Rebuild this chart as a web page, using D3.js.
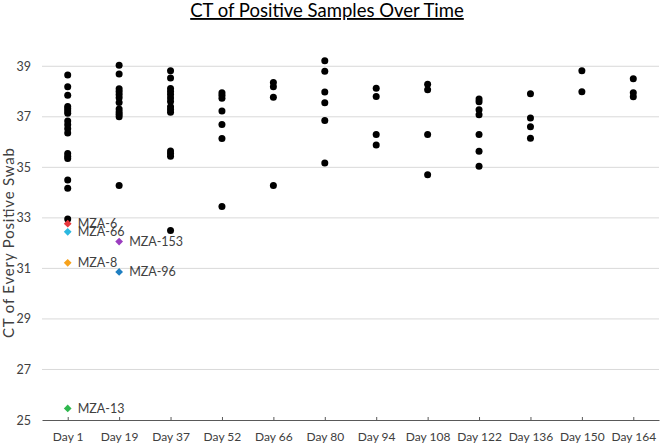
<!DOCTYPE html>
<html>
<head>
<meta charset="utf-8">
<script src="https://cdn.jsdelivr.net/npm/d3@7"></script>
<style>
  body { margin: 0; background: #fff; }
  text { font-family: Lato, "Liberation Sans", Arial, sans-serif; }
</style>
</head>
<body>
<svg id="chart" width="660" height="444"></svg>
<script>
// categories on the x axis
var days = ["Day 1", "Day 19", "Day 37", "Day 52", "Day 66", "Day 80",
            "Day 94", "Day 108", "Day 122", "Day 136", "Day 150", "Day 164"];

// CT values of every positive swab, one list per day
var ctDay1   = [38.65, 38.19, 37.85, 37.41, 37.32, 37.23, 37.14, 36.83, 36.69, 36.53, 36.36, 35.55, 35.44, 35.35, 34.50, 34.17, 32.96];
var ctDay19  = [39.04, 38.69, 38.11, 38.00, 37.88, 37.75, 37.57, 37.31, 37.19, 37.10, 37.00, 34.28];
var ctDay37  = [38.82, 38.54, 38.12, 38.00, 37.88, 37.74, 37.61, 37.40, 37.29, 37.18, 35.65, 35.55, 35.44, 32.50];
var ctDay52  = [37.95, 37.85, 37.73, 37.23, 36.70, 36.14, 33.45];
var ctDay66  = [38.36, 38.19, 37.77, 34.28];
var ctDay80  = [39.22, 38.80, 37.98, 37.56, 36.85, 35.17];
var ctDay94  = [38.13, 37.80, 36.30, 35.88];
var ctDay108 = [38.29, 38.07, 36.30, 34.71];
var ctDay122 = [37.70, 37.60, 37.28, 37.08, 36.30, 35.64, 35.04];
var ctDay136 = [37.91, 36.95, 36.61, 36.15];
var ctDay150 = [38.82, 37.99];
var ctDay164 = [38.51, 37.95, 37.79];

var ctByDay = [ctDay1, ctDay19, ctDay37, ctDay52, ctDay66, ctDay80,
               ctDay94, ctDay108, ctDay122, ctDay136, ctDay150, ctDay164];

// highlighted samples
var sampleNames = ["MZA-6", "MZA-66", "MZA-8", "MZA-13", "MZA-153", "MZA-96"];
var sampleDays  = ["Day 1", "Day 1", "Day 1", "Day 1", "Day 19", "Day 19"];
var sampleCt    = [32.77, 32.45, 31.22, 25.46, 32.06, 30.86];
var sampleColors = ["#e8383d", "#2bb8e0", "#f7a21b", "#2fb84e", "#9b3dbf", "#1f7fc1"];

var yTicks = [25, 27, 29, 31, 33, 35, 37, 39];

var svg = d3.select("#chart");
var plotL = 42, plotR = 659, plotT = 40, plotB = 420;

var x = d3.scaleLinear().domain([0.5, days.length + 0.5]).range([plotL, plotR]);
var y = d3.scaleLinear().domain([25, 40]).range([plotB, plotT + 1]);

var points = [];
ctByDay.forEach(function (list, i) {
    list.forEach(function (v) { points.push({ i: i + 1, ct: v }); });
});

var samples = sampleNames.map(function (n, k) {
    return { name: n, i: days.indexOf(sampleDays[k]) + 1, ct: sampleCt[k], color: sampleColors[k] };
});

// title
svg.append("text")
    .attr("x", 327)
    .attr("y", 17)
    .attr("text-anchor", "middle")
    .style("font-size", "18.5px")
    .style("fill", "#000")
    .style("text-decoration", "underline")
    .text("CT of Positive Samples Over Time");

// gridlines
svg.append("g")
    .selectAll("line")
    .data(yTicks.filter(function (t) { return t > 25; }))
    .enter()
    .append("line")
    .attr("x1", plotL)
    .attr("x2", plotR)
    .attr("y1", function (d) { return y(d); })
    .attr("y2", function (d) { return y(d); })
    .style("stroke", "#d9d9d9")
    .style("stroke-width", 1);

// y axis labels (no axis line)
var yAxis = svg.append("g")
    .attr("transform", "translate(" + plotL + ",0)")
    .call(d3.axisLeft(y).tickValues(yTicks).tickSize(0).tickPadding(11));
yAxis.select(".domain").remove();
yAxis.selectAll("text").style("font-size", "12.5px").style("fill", "#404040");

// x axis
var xAxis = svg.append("g")
    .attr("transform", "translate(0," + plotB + ")")
    .call(d3.axisBottom(x)
        .tickValues(d3.range(1, days.length + 1))
        .tickFormat(function (d) { return days[d - 1]; })
        .tickSizeInner(-3)
        .tickSizeOuter(0)
        .tickPadding(12));
xAxis.select(".domain").style("stroke", "#595959");
xAxis.selectAll(".tick line").style("stroke", "#595959");
xAxis.selectAll("text").style("font-size", "12px").style("fill", "#404040");

// y title
svg.append("text")
    .attr("transform", "translate(14,243) rotate(-90)")
    .attr("text-anchor", "middle")
    .style("font-size", "15px")
    .attr("textLength", 190)
    .attr("lengthAdjust", "spacing")
    .style("fill", "#404040")
    .text("CT of Every Positive Swab");

// black points
svg.append("g")
    .selectAll("circle")
    .data(points)
    .enter()
    .append("circle")
    .attr("cx", function (d) { return x(d.i); })
    .attr("cy", function (d) { return y(d.ct); })
    .attr("r", 3.5)
    .style("fill", "#000");

// highlighted samples, drawn as squares turned 45 degrees
var sym = d3.symbol().type(d3.symbolSquare).size(30);
var sg = svg.append("g");
sg.selectAll("path")
    .data(samples)
    .enter()
    .append("path")
    .attr("d", sym)
    .attr("transform", function (d) { return "translate(" + x(d.i) + "," + y(d.ct) + ") rotate(45)"; })
    .style("fill", function (d) { return d.color; });

sg.selectAll("text")
    .data(samples)
    .enter()
    .append("text")
    .attr("x", function (d) { return x(d.i) + 10; })
    .attr("y", function (d) { return y(d.ct); })
    .attr("dy", "0.35em")
    .style("font-size", "12.5px")
    .style("fill", "#404040")
    .text(function (d) { return d.name; });
</script>
</body>
</html>
